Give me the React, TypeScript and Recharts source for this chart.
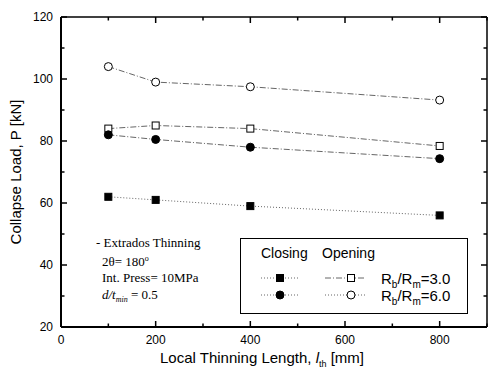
import React from "react";
import { LineChart, Line, XAxis, YAxis, ReferenceLine } from "recharts";

const lengths = [100, 200, 400, 800];
const closing30 = [62, 61, 59, 56];
const opening30 = [84, 85, 84, 78.4];
const closing60 = [82, 80.5, 78, 74.3];
const opening60 = [104, 99, 97.5, 93.2];

const xMajor = [0, 200, 400, 600, 800];
const xMinor = [100, 300, 500, 700, 900];
const yMajor = [20, 40, 60, 80, 100, 120];
const yMinor = [30, 50, 70, 90, 110];

const data = lengths.map((l, i) => ({
  l,
  c3: closing30[i],
  o3: opening30[i],
  c6: closing60[i],
  o6: opening60[i],
}));

const SANS = "'Liberation Sans Narrow', 'Liberation Sans', Arial, sans-serif";
const SERIF = "'Liberation Serif', 'Times New Roman', serif";
const LINE = "#666";

// plot box size in px, used to turn tick lengths into data units
const PW = 426;
const PH = 310;
const XD = [0, 900];
const YD = [20, 120];
const dx = (px: number) => (px * (XD[1] - XD[0])) / PW;
const dy = (px: number) => (px * (YD[1] - YD[0])) / PH;

const xFmt = (v: number) => String(v);
const tickStyle = { fontSize: 12, fontFamily: SANS, fill: "#000" };

const Square = ({ cx, cy, filled }: any) => (
  <rect x={cx - 3.5} y={cy - 3.5} width={7} height={7} fill={filled ? "#000" : "#fff"} stroke="#000" strokeWidth={1} />
);
const Circle = ({ cx, cy, filled }: any) => (
  <circle cx={cx} cy={cy} r={4} fill={filled ? "#000" : "#fff"} stroke="#000" strokeWidth={1} />
);

const dotFn = (Shape: any, filled: boolean) => (p: any) => (
  <Shape key={`${p.dataKey}-${p.index}`} cx={p.cx} cy={p.cy} filled={filled} />
);

// frame top/right plus inward ticks on all four sides
const frameAndTicks = () => {
  const out: any[] = [];
  const add = (key: string, seg: any, w = 1.5) =>
    out.push(<ReferenceLine key={key} segment={seg} stroke="#000" strokeWidth={w} ifOverflow="visible" />);
  add("top", [{ x: XD[0], y: YD[1] }, { x: XD[1], y: YD[1] }]);
  add("right", [{ x: XD[1], y: YD[0] }, { x: XD[1], y: YD[1] }]);
  [...xMajor, ...xMinor].forEach((v) => {
    const len = xMajor.includes(v) ? 6 : 3.5;
    add(`xb${v}`, [{ x: v, y: YD[0] }, { x: v, y: YD[0] + dy(len) }]);
    add(`xt${v}`, [{ x: v, y: YD[1] }, { x: v, y: YD[1] - dy(len) }]);
  });
  [...yMajor, ...yMinor].forEach((v) => {
    const len = yMajor.includes(v) ? 6 : 3.5;
    add(`yl${v}`, [{ x: XD[0], y: v }, { x: XD[0] + dx(len), y: v }]);
    add(`yr${v}`, [{ x: XD[1], y: v }, { x: XD[1] - dx(len), y: v }]);
  });
  return out;
};

const Legend = () => (
  <svg width={228} height={76} style={{ position: "absolute", left: 240, top: 238 }}>
    <rect x={0.5} y={0.5} width={227} height={75} fill="#fff" stroke="#000" strokeWidth={1} />
    <text x={21} y={20} fontSize={14} fontFamily={SANS} fill="#000">Closing</text>
    <text x={82} y={20} fontSize={14} fontFamily={SANS} fill="#000">Opening</text>
    <line x1={21} y1={40} x2={59} y2={40} stroke={LINE} strokeDasharray="1 2" />
    <Square cx={40} cy={40} filled />
    <line x1={85} y1={40} x2={125} y2={40} stroke={LINE} strokeDasharray="6 2 1 2" />
    <Square cx={111} cy={40} filled={false} />
    <line x1={21} y1={57} x2={59} y2={57} stroke={LINE} strokeDasharray="1 2" />
    <Circle cx={40} cy={57} filled />
    <line x1={85} y1={57} x2={125} y2={57} stroke={LINE} strokeDasharray="1 2" />
    <Circle cx={111} cy={57} filled={false} />
    <text x={141} y={46} fontSize={15} fontFamily={SANS} fill="#000">
      R<tspan fontSize={10} dy={4}>b</tspan>
      <tspan dy={-4}>/R</tspan>
      <tspan fontSize={10} dy={4}>m</tspan>
      <tspan dy={-4}>=3.0</tspan>
    </text>
    <text x={141} y={63} fontSize={15} fontFamily={SANS} fill="#000">
      R<tspan fontSize={10} dy={4}>b</tspan>
      <tspan dy={-4}>/R</tspan>
      <tspan fontSize={10} dy={4}>m</tspan>
      <tspan dy={-4}>=6.0</tspan>
    </text>
  </svg>
);

const Notes = () => (
  <svg width={140} height={80} style={{ position: "absolute", left: 92, top: 232 }}>
    <g fontFamily={SERIF} fontSize={13}>
      <text x={4} y={15} fill="#000">- Extrados Thinning</text>
      <text x={10} y={34} fill="#000">2θ= 180<tspan fontSize={8} dy={-5}>o</tspan></text>
      <text x={10} y={50} fill="#000">Int. Press= 10MPa</text>
      <text x={10} y={67} fill="#000">
        <tspan fontStyle="italic">d/t</tspan>
        <tspan fontStyle="italic" fontSize={8} dy={3}>min</tspan>
        <tspan dy={-3}> = 0.5</tspan>
      </text>
    </g>
  </svg>
);

export default function App() {
  return (
    <div style={{ position: "absolute", left: 0, top: 0, width: 490, height: 370, background: "#fff" }}>
      <LineChart width={490} height={370} data={data} margin={{ top: 17, right: 3, bottom: 0, left: 0 }}>
        <XAxis
          dataKey="l"
          type="number"
          domain={XD}
          ticks={xMajor}
          interval={0}
          height={43}
          stroke="#000"
          tickLine={false}
          tickSize={0}
          tickMargin={8}
          tickFormatter={xFmt}
          tick={tickStyle}
          axisLine={{ strokeWidth: 2 }}
        />
        <YAxis
          type="number"
          domain={YD}
          ticks={yMajor}
          interval={0}
          width={61}
          stroke="#000"
          tickLine={false}
          tickSize={0}
          tickMargin={8}
          tick={tickStyle}
          axisLine={{ strokeWidth: 2 }}
        />
        {frameAndTicks()}
        <Line dataKey="c3" stroke={LINE} strokeWidth={1} strokeDasharray="1 2" dot={dotFn(Square, true)} isAnimationActive={false} />
        <Line dataKey="o3" stroke={LINE} strokeWidth={1} strokeDasharray="6 2 1 2" dot={dotFn(Square, false)} isAnimationActive={false} />
        <Line dataKey="c6" stroke={LINE} strokeWidth={1} strokeDasharray="6 2 1 2" dot={dotFn(Circle, true)} isAnimationActive={false} />
        <Line dataKey="o6" stroke={LINE} strokeWidth={1} strokeDasharray="6 2 1 2" dot={dotFn(Circle, false)} isAnimationActive={false} />
      </LineChart>
      <Notes />
      <Legend />
      <div
        style={{
          position: "absolute",
          left: 15,
          top: 172,
          transform: "translate(-50%, -50%) rotate(-90deg)",
          whiteSpace: "nowrap",
          fontFamily: SANS,
          fontSize: 15,
        }}
      >
        Collapse Load, P [kN]
      </div>
      <div
        style={{
          position: "absolute",
          left: 262,
          top: 358,
          transform: "translate(-50%, -50%)",
          whiteSpace: "nowrap",
          fontFamily: SANS,
          fontSize: 15,
          lineHeight: "18px",
        }}
      >
        Local Thinning Length, <i>l</i>
        <sub style={{ fontSize: 9, lineHeight: 0 }}>th</sub> [mm]
      </div>
    </div>
  );
}
